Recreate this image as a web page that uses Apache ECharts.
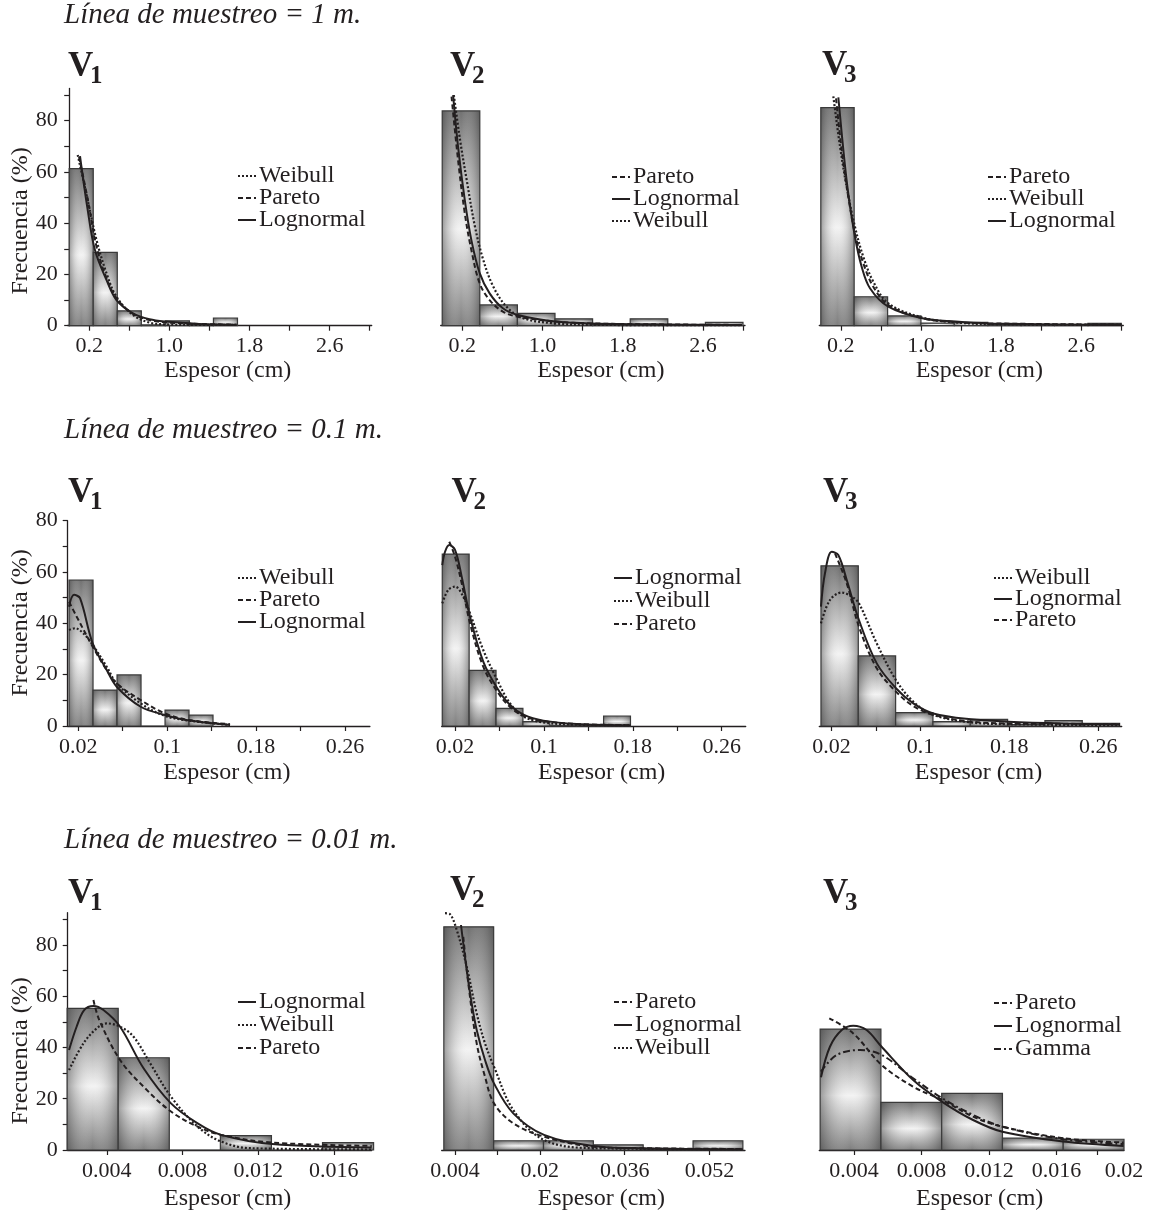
<!DOCTYPE html>
<html>
<head>
<meta charset="UTF-8">
<title>Espesor - frecuencia</title>
<script src="https://cdn.jsdelivr.net/npm/echarts@6/dist/echarts.min.js"></script>
<style>
  html, body { margin: 0; padding: 0; background: #fff; }
  #main { width: 1149px; height: 1213px; }
</style>
</head>
<body>
<div id="main"></div>
<script>
// ---------- datos: Línea de muestreo = 1 m ----------
var edges_1m_v1 = [0, 0.24, 0.48, 0.72, 0.96, 1.2, 1.44, 1.68];
var freq_1m_v1 = [61.3, 28.6, 5.8, 0.3, 1.9, 0.4, 3.0];
var weib_1m_v1 = [[0.085, 66.6], [0.17, 51.7], [0.273, 33.4], [0.373, 20.4], [0.472, 11.3], [0.637, 4.2], [0.802, 1.2], [0.967, 0.5], [1.3, 0.3], [1.67, 0.3]];
var pare_1m_v1 = [[0.098, 65.8], [0.18, 50.4], [0.273, 30.8], [0.373, 18.5], [0.472, 10.7], [0.637, 4.6], [0.802, 2.2], [0.967, 1.3], [1.3, 0.7], [1.67, 0.4]];
var logn_1m_v1 = [[0.108, 66.2], [0.18, 46.4], [0.257, 29.5], [0.373, 17.8], [0.472, 10.0], [0.637, 4.8], [0.802, 2.5], [0.967, 1.6], [1.298, 0.7], [1.668, 0.3]];

var edges_1m_v2 = [0, 0.375, 0.75, 1.125, 1.5, 1.875, 2.25, 2.625, 3.0];
var freq_1m_v2 = [83.8, 8.1, 4.8, 2.7, 0.4, 2.7, 0.3, 1.3];
var pare_1m_v2 = [[0.093, 89.4], [0.158, 64.7], [0.225, 43.9], [0.291, 29.5], [0.374, 16.5], [0.473, 10.0], [0.605, 5.5], [0.754, 3.5], [1.128, 1.6], [1.5, 0.9], [2.23, 0.5], [2.99, 0.3]];
var logn_1m_v2 = [[0.109, 90.0], [0.158, 69.9], [0.225, 49.1], [0.291, 33.4], [0.374, 20.5], [0.473, 12.6], [0.605, 6.8], [0.754, 4.2], [1.128, 1.6], [1.498, 0.9], [2.226, 0.5], [2.986, 0.3]];
var weib_1m_v2 = [[0.116, 90.0], [0.178, 72.5], [0.244, 56.9], [0.327, 38.6], [0.41, 25.6], [0.51, 15.2], [0.642, 7.4], [0.807, 2.9], [1.128, 0.9], [1.5, 0.3], [2.99, 0.2]];

var edges_1m_v3 = [0, 0.333, 0.667, 1.0, 1.333, 1.667, 2.0, 2.333, 2.667, 3.0];
var freq_1m_v3 = [85.1, 11.3, 3.8, 1.0, 1.3, 0.4, 0.3, 0.3, 0.9];
var pare_1m_v3 = [[0.152, 88.7], [0.208, 68.6], [0.274, 50.4], [0.341, 36.0], [0.424, 24.4], [0.524, 15.2], [0.674, 8.0], [1.013, 2.9], [1.346, 1.4], [1.68, 0.9], [3.0, 0.4]];
var weib_1m_v3 = [[0.125, 89.5], [0.192, 69.9], [0.258, 54.2], [0.341, 38.6], [0.424, 26.9], [0.524, 17.2], [0.674, 8.7], [1.013, 3.2], [1.346, 1.3], [1.68, 0.6], [3.0, 0.3]];
var logn_1m_v3 = [[0.175, 89.1], [0.225, 68.6], [0.274, 51.7], [0.341, 34.7], [0.408, 23.0], [0.491, 14.6], [0.674, 7.4], [1.013, 2.9], [1.346, 1.6], [1.68, 0.9], [3.0, 0.3]];

// ---------- datos: Línea de muestreo = 0.1 m ----------
var edges_01m_v1 = [0.0117, 0.0333, 0.0549, 0.0765, 0.0981, 0.1197, 0.1413];
var freq_01m_v1 = [56.9, 14.0, 19.9, 0, 6.2, 4.2];
var weib_01m_v1 = [[0.0117, 37.4], [0.0171, 38.1], [0.0246, 36.1], [0.033, 31.6], [0.0456, 23.1], [0.0546, 16.6], [0.0762, 8.8], [0.0981, 3.9], [0.12, 2.1], [0.1566, 0.4]];
var pare_01m_v1 = [[0.0117, 48.4], [0.0186, 42.6], [0.033, 30.9], [0.0456, 21.8], [0.0546, 16.6], [0.0762, 10.1], [0.0981, 4.9], [0.12, 2.3], [0.1566, 0.7]];
var logn_01m_v1 = [[0.0117, 46.5], [0.0162, 51.1], [0.0216, 49.8], [0.033, 32.2], [0.0456, 21.8], [0.0546, 15.3], [0.0762, 7.5], [0.0981, 4.3], [0.12, 2.1], [0.1566, 0.4]];

var edges_01m_v2 = [0.0085, 0.0327, 0.0569, 0.0811, 0.1053, 0.1295, 0.1537, 0.1779];
var freq_01m_v2 = [67.0, 21.7, 6.9, 1.7, 0.3, 0.3, 3.9];
var logn_01m_v2 = [[0.0085, 62.7], [0.011, 67.9], [0.0148, 70.5], [0.02, 68.6], [0.026, 58.2], [0.0335, 42.6], [0.0454, 25.1], [0.058, 14.7], [0.0695, 8.2], [0.0821, 4.3], [0.0995, 2.1], [0.1295, 0.8], [0.178, 0.3]];
var weib_01m_v2 = [[0.0085, 47.8], [0.0139, 53.0], [0.02, 54.3], [0.0274, 50.4], [0.0335, 43.9], [0.0454, 29.6], [0.058, 17.9], [0.0695, 8.8], [0.0821, 3.6], [0.0995, 1.4], [0.1295, 0.5], [0.178, 0.3]];
var pare_01m_v2 = [[0.0148, 71.8], [0.02, 66.0], [0.026, 55.6], [0.0335, 40.0], [0.0454, 23.1], [0.058, 13.4], [0.0695, 7.4], [0.0821, 3.9], [0.0995, 1.9], [0.1295, 0.8], [0.178, 0.3]];

var edges_01m_v3 = [0.0105, 0.0441, 0.0777, 0.1113, 0.1449, 0.1785, 0.2121, 0.2457, 0.2793];
var freq_01m_v3 = [62.4, 27.3, 5.2, 1.7, 2.6, 0.5, 2.1, 1.0];
var weib_01m_v3 = [[0.0105, 40.0], [0.0186, 49.1], [0.0292, 52.0], [0.0382, 50.4], [0.0447, 47.8], [0.0607, 32.2], [0.078, 17.9], [0.0936, 9.5], [0.1116, 4.3], [0.1453, 1.4], [0.1789, 0.7], [0.2797, 0.3]];
var logn_01m_v3 = [[0.0105, 46.5], [0.0141, 59.5], [0.0202, 67.9], [0.0261, 66.6], [0.0337, 56.9], [0.0447, 41.3], [0.0607, 24.4], [0.078, 14.7], [0.0936, 8.8], [0.1116, 4.9], [0.1453, 2.6], [0.1789, 1.7], [0.2286, 1.0], [0.2797, 0.6]];
var pare_01m_v3 = [[0.0231, 67.3], [0.0337, 55.6], [0.0447, 38.7], [0.0607, 22.5], [0.078, 13.4], [0.0936, 7.8], [0.1116, 4.3], [0.1453, 1.7], [0.1789, 1.0], [0.2797, 0.8]];

// ---------- datos: Línea de muestreo = 0.01 m ----------
var edges_001m_v1 = [0.0019, 0.0046, 0.0073, 0.01, 0.0127, 0.0154, 0.0181];
var freq_001m_v1 = [55.3, 36.0, 0, 5.6, 0, 2.9];
var logn_001m_v1 = [[0.002, 39.0], [0.0024, 48.1], [0.0028, 54.6], [0.00329, 56.2], [0.00382, 54.6], [0.0047, 48.1], [0.00594, 31.9], [0.00739, 18.2], [0.0088, 10.4], [0.01004, 5.9], [0.01274, 2.3], [0.018, 1.0]];
var weib_001m_v1 = [[0.002, 31.2], [0.00276, 41.6], [0.00347, 47.5], [0.004, 49.4], [0.0047, 48.1], [0.00541, 44.2], [0.00629, 33.8], [0.00739, 20.8], [0.0088, 9.1], [0.01004, 3.3], [0.01159, 0.7], [0.018, 0.2]];
var pare_001m_v1 = [[0.00329, 58.5], [0.0036, 50.7], [0.0047, 35.1], [0.00594, 24.7], [0.00739, 15.0], [0.0088, 9.1], [0.01004, 5.9], [0.01274, 2.9], [0.018, 1.6]];

var edges_001m_v2 = [0.0019, 0.0113, 0.0207, 0.0301, 0.0395, 0.0489, 0.0583];
var freq_001m_v2 = [87.1, 3.6, 3.6, 2.0, 0.3, 3.6];
var pare_001m_v2 = [[0.00557, 83.2], [0.00652, 65.0], [0.0081, 41.6], [0.00967, 28.6], [0.01136, 18.2], [0.015, 10.4], [0.0208, 5.2], [0.0301, 1.3], [0.0395, 0.7], [0.0583, 0.4]];
var logn_001m_v2 = [[0.00514, 87.8], [0.00622, 70.2], [0.00716, 57.2], [0.0081, 46.8], [0.00967, 35.1], [0.01136, 26.0], [0.015, 14.3], [0.0208, 5.9], [0.0301, 1.6], [0.0395, 0.7], [0.0583, 0.3]];
var weib_001m_v2 = [[0.00212, 92.4], [0.00307, 92.0], [0.00433, 85.9], [0.00622, 71.5], [0.0081, 53.3], [0.00967, 41.6], [0.01136, 32.5], [0.015, 15.6], [0.0208, 3.9], [0.0301, 0.7], [0.0583, 0.3]];

var edges_001m_v3 = [0.002, 0.0056, 0.0092, 0.0128, 0.0164, 0.02];
var freq_001m_v3 = [47.2, 18.6, 22.1, 4.6, 4.2];
var pare_001m_v3 = [[0.00254, 51.4], [0.00396, 45.5], [0.00564, 33.2], [0.00751, 24.7], [0.00923, 19.5], [0.01106, 13.0], [0.0128, 9.1], [0.01639, 4.6], [0.01998, 2.9]];
var logn_001m_v3 = [[0.00205, 28.4], [0.00258, 40.3], [0.00328, 46.8], [0.00396, 48.5], [0.00475, 46.8], [0.00564, 40.3], [0.00751, 27.3], [0.00923, 18.8], [0.01106, 11.7], [0.0128, 7.1], [0.01639, 3.3], [0.01998, 1.6]];
var gamm_001m_v3 = [[0.00205, 30.6], [0.00298, 37.1], [0.00436, 39.0], [0.00564, 37.1], [0.00751, 28.0], [0.00923, 20.2], [0.01106, 13.7], [0.0128, 9.1], [0.01639, 4.2], [0.01998, 2.3]];

// ---------- marcas de los ejes ----------
var ticks_1m = [0.2, 0.6, 1.0, 1.4, 1.8, 2.2, 2.6, 3.0];
var labels_1m = [0.2, 1.0, 1.8, 2.6];
var ticks_01m = [0.02, 0.06, 0.1, 0.14, 0.18, 0.22, 0.26];
var labels_01m = [0.02, 0.1, 0.18, 0.26];
var ticks_001m_v1 = [0.004, 0.008, 0.012, 0.016];
var labels_001m_v1 = [0.004, 0.008, 0.012, 0.016];
var ticks_001m_v2 = [0.004, 0.012, 0.02, 0.028, 0.036, 0.044, 0.052];
var labels_001m_v2 = [0.004, 0.02, 0.036, 0.052];
var ticks_001m_v3 = [0.004, 0.008, 0.012, 0.016, 0.0184];
var labels_001m_v3 = [0.004, 0.008, 0.012, 0.016, 0.02];
var yTicks_full = [0, 10, 20, 30, 40, 50, 60, 70, 80, 90];
var yTicks_80 = [0, 10, 20, 30, 40, 50, 60, 70, 80];
var yLabels = [0, 20, 40, 60, 80];

var rowTitles = ['Línea de muestreo = 1 m.', 'Línea de muestreo = 0.1 m.', 'Línea de muestreo = 0.01 m.'];

var ink = '#231f20';
var serif = '"Liberation Serif", "Times New Roman", serif';

// paneles: layout (px) + referencias a los datos
var panels = [
  {left: 67.7, top: 88.4, width: 304, height: 237.3, xMin: -0.015, xMax: 3.02, yMax: 92.6, yAxis: true, ticks: ticks_1m, labels: labels_1m, dec: 1, gap: 31,
   edges: edges_1m_v1, freq: freq_1m_v1, curves: [['Weibull', weib_1m_v1], ['Pareto', pare_1m_v1], ['Lognormal', logn_1m_v1]]},
  {left: 440.7, top: 88.4, width: 304.3, height: 237.3, xMin: -0.015, xMax: 3.02, yMax: 92.6, yAxis: false, ticks: ticks_1m, labels: labels_1m, dec: 1, gap: 31,
   edges: edges_1m_v2, freq: freq_1m_v2, curves: [['Pareto', pare_1m_v2], ['Lognormal', logn_1m_v2], ['Weibull', weib_1m_v2]]},
  {left: 819.3, top: 88.4, width: 304, height: 237.3, xMin: -0.015, xMax: 3.02, yMax: 92.6, yAxis: false, ticks: ticks_1m, labels: labels_1m, dec: 1, gap: 31,
   edges: edges_1m_v3, freq: freq_1m_v3, curves: [['Pareto', pare_1m_v3], ['Weibull', weib_1m_v3], ['Lognormal', logn_1m_v3]]},
  {left: 67.7, top: 520.7, width: 302.2, height: 205.3, xMin: 0.0105, xMax: 0.2825, yMax: 80, yAxis: true, ticks: ticks_01m, labels: labels_01m, dec: 0, gap: 35,
   edges: edges_01m_v1, freq: freq_01m_v1, curves: [['Weibull', weib_01m_v1], ['Pareto', pare_01m_v1], ['Lognormal', logn_01m_v1]]},
  {left: 441.7, top: 520.7, width: 304, height: 205.3, xMin: 0.008, xMax: 0.2816, yMax: 80, yAxis: false, ticks: ticks_01m, labels: labels_01m, dec: 0, gap: 35,
   edges: edges_01m_v2, freq: freq_01m_v2, curves: [['Lognormal', logn_01m_v2], ['Weibull', weib_01m_v2], ['Pareto', pare_01m_v2]]},
  {left: 819.3, top: 520.7, width: 302.4, height: 205.3, xMin: 0.009, xMax: 0.2812, yMax: 80, yAxis: false, ticks: ticks_01m, labels: labels_01m, dec: 0, gap: 35,
   edges: edges_01m_v3, freq: freq_01m_v3, curves: [['Weibull', weib_01m_v3], ['Lognormal', logn_01m_v3], ['Pareto', pare_01m_v3]]},
  {left: 67.7, top: 912.7, width: 304, height: 237.3, xMin: 0.00193, xMax: 0.018, yMax: 92.6, yAxis: true, ticks: ticks_001m_v1, labels: labels_001m_v1, dec: 0, gap: 37,
   edges: edges_001m_v1, freq: freq_001m_v1, curves: [['Lognormal', logn_001m_v1], ['Weibull', weib_001m_v1], ['Pareto', pare_001m_v1]]},
  {left: 441.7, top: 912.7, width: 303.3, height: 237.3, xMin: 0.0015, xMax: 0.0587, yMax: 92.6, yAxis: false, ticks: ticks_001m_v2, labels: labels_001m_v2, dec: 0, gap: 37,
   edges: edges_001m_v2, freq: freq_001m_v2, curves: [['Pareto', pare_001m_v2], ['Lognormal', logn_001m_v2], ['Weibull', weib_001m_v2]]},
  {left: 819.3, top: 912.7, width: 304.7, height: 237.3, xMin: 0.00195, xMax: 0.02, yMax: 92.6, yAxis: false, ticks: ticks_001m_v3, labels: labels_001m_v3, dec: 0, gap: 37,
   edges: edges_001m_v3, freq: freq_001m_v3, curves: [['Pareto', pare_001m_v3], ['Lognormal', logn_001m_v3], ['Gamma', gamm_001m_v3]]}
];

var legendPos = [
  {left: 237, top: 164, gap: -2}, {left: 611, top: 165, gap: -2}, {left: 987, top: 165, gap: -2},
  {left: 237, top: 566, gap: -2}, {left: 613, top: 566, gap: -1}, {left: 993, top: 566, gap: -3},
  {left: 237, top: 990, gap: -1}, {left: 613, top: 990, gap: -1}, {left: 993, top: 991, gap: -1}
];
var vPos = [
  {x: 68, y: 66.5}, {x: 450, y: 66.5}, {x: 822, y: 66},
  {x: 68, y: 493}, {x: 451.5, y: 493}, {x: 823, y: 493},
  {x: 68, y: 894}, {x: 450, y: 891}, {x: 823, y: 894}
];
var titleTops = [1, 416, 826];
var yNamePos = [{x: 21, y: 221}, {x: 21, y: 623}, {x: 21, y: 1051}];

var lineTypes = {
  Lognormal: {type: 'solid', width: 2},
  Weibull: {type: [2, 2], width: 2.2},
  Pareto: {type: [5, 3], width: 2},
  Gamma: {type: [7, 3, 2, 3], width: 2}
};

function histData(edges, freq) {
  var out = [];
  for (var i = 0; i < freq.length; i++) {
    out.push([edges[i], edges[i + 1], freq[i]]);
  }
  return out;
}

var vGrad = {type: 'linear', x: 0, y: 0, x2: 0, y2: 1, colorStops: [
  {offset: 0, color: '#707070'}, {offset: 0.55, color: '#f3f3f3'}, {offset: 1, color: '#7e7e7e'}]};
var hGrad = {type: 'linear', x: 0, y: 0, x2: 1, y2: 0, colorStops: [
  {offset: 0, color: 'rgba(60,60,60,0.5)'}, {offset: 0.5, color: 'rgba(255,255,255,0)'}, {offset: 1, color: 'rgba(60,60,60,0.5)'}]};

function renderBar(params, api) {
  var lo = api.coord([api.value(0), 0]);
  var hi = api.coord([api.value(1), api.value(2)]);
  var shape = {x: lo[0], y: hi[1], width: hi[0] - lo[0], height: lo[1] - hi[1]};
  return {
    type: 'group',
    children: [
      {type: 'rect', shape: shape, style: {fill: vGrad}},
      {type: 'rect', shape: shape, style: {fill: hGrad, stroke: '#3a3a3a', lineWidth: 1.2}}
    ]
  };
}

function fmt(dec) {
  return function (v) { return dec ? v.toFixed(dec) : String(+v.toFixed(4)); };
}

var grids = [], xAxes = [], yAxes = [], series = [], legends = [], graphics = [], titles = [];

panels.forEach(function (p, i) {
  grids.push({left: p.left, top: p.top, width: p.width, height: p.height});
  xAxes.push({
    type: 'value', gridIndex: i, min: p.xMin, max: p.xMax,
    name: 'Espesor (cm)', nameLocation: 'middle', nameGap: p.gap,
    nameTextStyle: {fontFamily: serif, fontSize: 24, color: ink, padding: [0, 0, 0, 16]},
    axisLine: {onZero: false, lineStyle: {color: ink, width: 1.3}},
    axisTick: {customValues: p.ticks, length: 5, lineStyle: {color: ink, width: 1.2}},
    axisLabel: {customValues: p.labels, formatter: fmt(p.dec), margin: 10, fontFamily: serif, fontSize: 22, color: ink},
    splitLine: {show: false}
  });
  yAxes.push({
    type: 'value', gridIndex: i, min: 0, max: p.yMax, show: p.yAxis,
    axisLine: {show: true, lineStyle: {color: ink, width: 1.3}},
    axisTick: {customValues: p.yMax > 85 ? yTicks_full : yTicks_80, length: 5, lineStyle: {color: ink, width: 1.2}},
    axisLabel: {customValues: yLabels, margin: 10, fontFamily: serif, fontSize: 22, color: ink},
    splitLine: {show: false}
  });
  series.push({
    type: 'custom', name: 'hist' + i, xAxisIndex: i, yAxisIndex: i,
    renderItem: renderBar, encode: {x: [0, 1], y: 2},
    data: histData(p.edges, p.freq), z: 2, silent: true
  });
  p.curves.forEach(function (c) {
    var ls = lineTypes[c[0]];
    series.push({
      type: 'line', name: c[0], xAxisIndex: i, yAxisIndex: i, data: c[1],
      smooth: 0.35, symbol: 'none', z: 5, silent: true,
      itemStyle: {color: ink},
      lineStyle: {color: ink, width: ls.width, type: ls.type}
    });
  });
  var lp = legendPos[i];
  legends.push({
    orient: 'vertical', left: lp.left, top: lp.top, padding: 0, itemGap: lp.gap,
    itemWidth: 18, itemHeight: 12, selectedMode: false,
    itemStyle: {opacity: 0},
    data: p.curves.map(function (c) { return c[0]; }),
    textStyle: {fontFamily: serif, fontSize: 24, color: ink, lineHeight: 22, padding: [0, 0, 0, -2]}
  });
  var vp = vPos[i];
  graphics.push({type: 'text', x: vp.x, y: vp.y,
    style: {text: 'V', font: 'bold 35px ' + serif, fill: ink, align: 'left', verticalAlign: 'middle'}});
  graphics.push({type: 'text', x: vp.x + 22, y: vp.y + 10,
    style: {text: String(i % 3 + 1), font: 'bold 25px ' + serif, fill: ink, align: 'left', verticalAlign: 'middle'}});
});

rowTitles.forEach(function (t, r) {
  titles.push({text: t, left: 64, top: titleTops[r], padding: 0,
    textStyle: {fontFamily: serif, fontStyle: 'italic', fontWeight: 'normal', fontSize: 29, color: ink}});
});

yNamePos.forEach(function (pos) {
  graphics.push({type: 'text', x: pos.x, y: pos.y, rotation: Math.PI / 2,
    style: {text: 'Frecuencia (%)', font: '24px ' + serif, fill: ink, align: 'center', verticalAlign: 'middle'}});
});

var myChart = echarts.init(document.getElementById('main'));
myChart.setOption({
  animation: false,
  backgroundColor: '#fff',
  title: titles,
  grid: grids,
  xAxis: xAxes,
  yAxis: yAxes,
  legend: legends,
  graphic: graphics,
  series: series
});
</script>
</body>
</html>
